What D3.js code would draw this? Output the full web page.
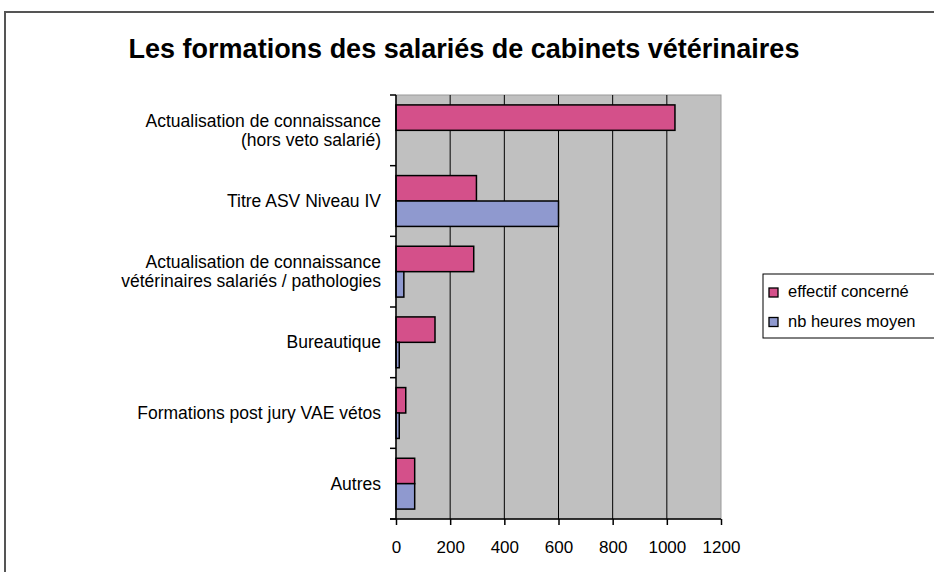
<!DOCTYPE html>
<html>
<head>
<meta charset="utf-8">
<script src="https://cdn.jsdelivr.net/npm/d3@7"></script>
<style>
  body { margin: 0; background: #fff; }
  text { font-family: Arial, "Liberation Sans", sans-serif; fill: #000; }
</style>
</head>
<body>
<svg id="chart"></svg>
<script>
// chart values
var categories = [
  ["Actualisation de connaissance", "(hors veto salarié)"],
  ["Titre ASV Niveau IV"],
  ["Actualisation de connaissance", "vétérinaires salariés / pathologies"],
  ["Bureautique"],
  ["Formations post jury VAE vétos"],
  ["Autres"]
];
var seriesNames = ["effectif concerné", "nb heures moyen"];
var effectif = [1030, 297, 287, 144, 36, 69];
var heures = [0, 600, 29, 12, 12, 69];
var xTicks = [0, 200, 400, 600, 800, 1000, 1200];
var colors = ["#d4508a", "#8f99cf"];

drawChart();

function drawChart() {
  var width = 934, height = 572;
  var pl = 396, pr = 721, pt = 95, pb = 519;

  var svg = d3.select("#chart")
      .attr("width", width)
      .attr("height", height);

  // outer chart frame
  svg.append("rect")
      .attr("x", 5).attr("y", 12)
      .attr("width", 960).attr("height", 600)
      .attr("fill", "#fff")
      .attr("stroke", "#555")
      .attr("stroke-width", 2);

  svg.append("text")
      .attr("x", 464).attr("y", 58)
      .attr("text-anchor", "middle")
      .style("font-size", "27px")
      .style("font-weight", "bold")
      .text("Les formations des salariés de cabinets vétérinaires");

  var x = d3.scaleLinear().domain([0, 1200]).range([pl, pr]);
  var y = d3.scaleBand().domain(d3.range(categories.length)).range([pt, pb]);
  var inner = d3.scaleBand().domain([0, 1]).range([0, y.bandwidth()]).paddingOuter(0.39).paddingInner(0);

  svg.append("rect")
      .attr("x", pl).attr("y", pt)
      .attr("width", pr - pl).attr("height", pb - pt)
      .attr("fill", "#c0c0c0")
      .attr("stroke", "#9a9a9a")
      .attr("stroke-width", 1);

  svg.append("g").selectAll("line")
      .data(xTicks.slice(1, -1))
      .enter().append("line")
      .attr("x1", function(d) { return x(d); })
      .attr("x2", function(d) { return x(d); })
      .attr("y1", pt).attr("y2", pb)
      .attr("stroke", "#000")
      .attr("stroke-width", 1);

  var data = [];
  categories.forEach(function(c, i) {
    data.push({cat: i, s: 0, v: effectif[i]});
    data.push({cat: i, s: 1, v: heures[i]});
  });

  svg.append("g").selectAll("rect")
      .data(data.filter(function(d) { return d.v > 0; }))
      .enter().append("rect")
      .attr("x", x(0))
      .attr("y", function(d) { return y(d.cat) + inner(d.s); })
      .attr("width", function(d) { return x(d.v) - x(0); })
      .attr("height", inner.bandwidth())
      .attr("fill", function(d) { return colors[d.s]; })
      .attr("stroke", "#000")
      .attr("stroke-width", 1.5);

  // y axis
  var yAxis = svg.append("g");
  yAxis.append("line")
      .attr("x1", pl).attr("x2", pl)
      .attr("y1", pt).attr("y2", pb)
      .attr("stroke", "#000").attr("stroke-width", 1.5);
  yAxis.selectAll(".tk")
      .data(d3.range(categories.length + 1))
      .enter().append("line")
      .attr("x1", pl - 6).attr("x2", pl)
      .attr("y1", function(d) { return pt + d * y.step(); })
      .attr("y2", function(d) { return pt + d * y.step(); })
      .attr("stroke", "#000").attr("stroke-width", 1.5);

  var lab = yAxis.selectAll(".lab")
      .data(categories)
      .enter().append("text")
      .attr("text-anchor", "end")
      .style("font-size", "17.5px")
      .attr("y", function(d, i) {
        return y(i) + y.bandwidth() / 2 + 6 - (d.length - 1) * 9.5;
      });
  lab.selectAll("tspan")
      .data(function(d) { return d; })
      .enter().append("tspan")
      .attr("x", 381)
      .attr("dy", function(d, i) { return i ? 19 : 0; })
      .text(function(d) { return d; });

  // x axis
  var xAxis = svg.append("g")
      .attr("transform", "translate(0," + pb + ")")
      .call(d3.axisBottom(x).tickValues(xTicks).tickFormat(d3.format("d"))
        .tickSize(6).tickPadding(16).tickSizeOuter(0));
  xAxis.select(".domain").attr("stroke", "#000").attr("stroke-width", 1.5)
      .attr("d", "M" + (pl - 6) + ",0H" + pr);
  xAxis.selectAll(".tick line").attr("stroke", "#000").attr("stroke-width", 1.5);
  xAxis.selectAll(".tick text")
      .style("font-size", "17px")
      .style("font-family", "Arial, 'Liberation Sans', sans-serif");

  // legend
  var leg = svg.append("g").attr("transform", "translate(763,274)");
  leg.append("rect")
      .attr("width", 200).attr("height", 64)
      .attr("fill", "#fff").attr("stroke", "#000").attr("stroke-width", 1);
  var item = leg.selectAll(".item")
      .data(seriesNames)
      .enter().append("g")
      .attr("transform", function(d, i) { return "translate(0," + (i * 29.5) + ")"; });
  item.append("rect")
      .attr("x", 6).attr("y", 14)
      .attr("width", 9).attr("height", 9)
      .attr("fill", function(d, i) { return colors[i]; })
      .attr("stroke", "#000").attr("stroke-width", 1.3);
  item.append("text")
      .attr("x", 25).attr("y", 23)
      .style("font-size", "16.5px")
      .text(function(d) { return d; });
}
</script>
</body>
</html>
